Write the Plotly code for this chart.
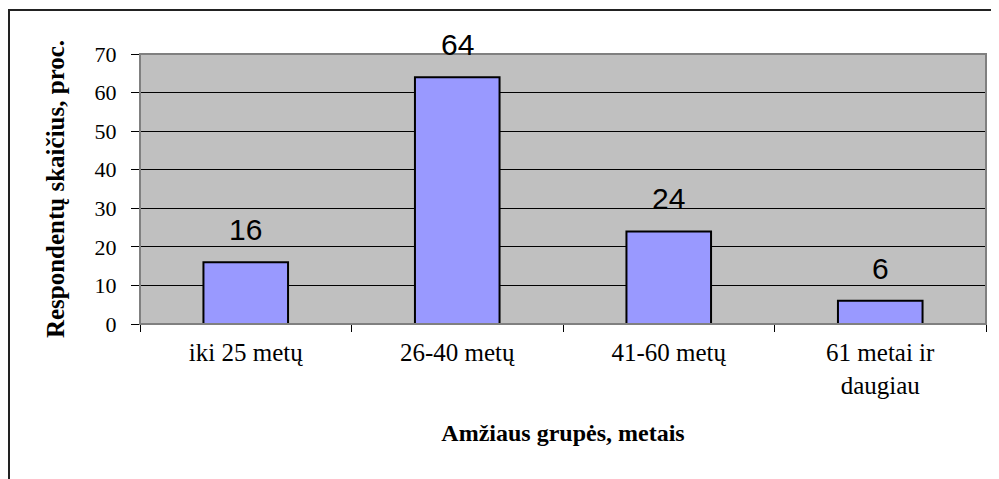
import plotly.graph_objects as go

categories = ["iki 25 metų", "26-40 metų", "41-60 metų", "61 metai ir<br>daugiau"]
values = [16, 64, 24, 6]
y_ticks = [0, 10, 20, 30, 40, 50, 60, 70]

# page body has an 8px margin, so the figure is drawn 8px in from the window edge
W, H = 991, 471
L, R, T, B = 132, 13, 46, 155
pw, ph = W - L - R, H - T - B

fig = go.Figure()
fig.add_trace(go.Bar(
    x=categories, y=values,
    marker=dict(color="#9999FF", line=dict(color="black", width=2)),
    width=0.4,
    hoverinfo="skip",
))

for c, v in zip(categories, values):
    fig.add_annotation(
        x=c, y=v, text=str(v), showarrow=False,
        xref="x", yref="y", yanchor="bottom", yshift=14,
        font=dict(family="Liberation Sans, Arial", size=30, color="black"),
    )

serif = "Liberation Serif, Times New Roman, serif"

fig.update_layout(
    width=W, height=H,
    margin=dict(l=L, r=R, t=T, b=B),
    paper_bgcolor="white",
    plot_bgcolor="#C0C0C0",
    showlegend=False,
    xaxis=dict(
        type="category",
        tickson="boundaries",
        ticks="outside", ticklen=7, tickcolor="black", tickwidth=1,
        showline=True, linecolor="black", linewidth=1,
        showgrid=False,
        tickfont=dict(family=serif, size=25, color="black"),
        ticklabelstandoff=6,
        title=dict(text="<b>Amžiaus grupės, metais</b>",
                   font=dict(family=serif, size=24, color="black"),
                   standoff=26),
        fixedrange=True,
    ),
    yaxis=dict(
        range=[0, 70],
        tickvals=y_ticks,
        ticks="outside", ticklen=8, tickcolor="black", tickwidth=1,
        showline=True, linecolor="black", linewidth=1,
        showgrid=True, gridcolor="black", gridwidth=1,
        zeroline=False,
        tickfont=dict(family=serif, size=22, color="black"),
        ticklabelstandoff=10,
        title=dict(text="<b>Respondentų skaičius, proc.</b>",
                   font=dict(family=serif, size=25, color="black"),
                   standoff=22),
        fixedrange=True,
    ),
    shapes=[
        dict(type="rect", xref="paper", yref="paper",
             x0=0, x1=1, y0=0, y1=1,
             line=dict(color="#808080", width=2), layer="above"),
        dict(type="rect", xref="paper", yref="paper",
             x0=(1 - L) / pw, x1=1.2, y0=-1.0, y1=1 + (T - 2) / ph,
             line=dict(color="#222222", width=2)),
    ],
)

fig.write_html("out.html")
